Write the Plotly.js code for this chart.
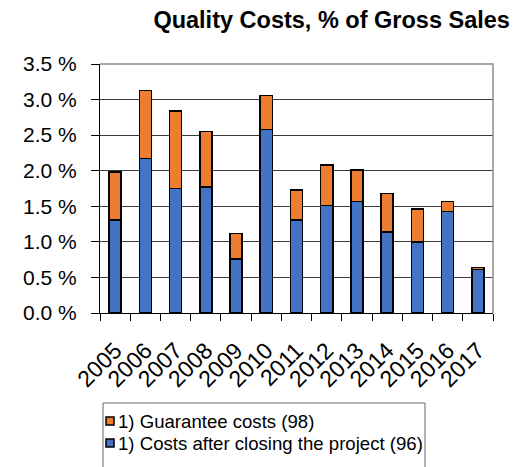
<!DOCTYPE html>
<html>
<head>
<meta charset="utf-8">
<script src="https://cdn.plot.ly/plotly-3.0.1.min.js"></script>
<style>html,body{margin:0;padding:0;background:#fff;}#chart{width:515px;height:467px;}</style>
</head>
<body>
<div id="chart"></div>
<script>
const years = ['2005','2006','2007','2008','2009','2010','2011','2012','2013','2014','2015','2016','2017'];
const costsAfterClosing = [1.31, 2.17, 1.75, 1.77, 0.76, 2.58, 1.31, 1.51, 1.57, 1.14, 1.00, 1.43, 0.61];
const guaranteeCosts = [0.67, 0.96, 1.09, 0.78, 0.36, 0.48, 0.42, 0.57, 0.44, 0.54, 0.46, 0.14, 0.03];
const seriesNames = ['1) Costs after closing the project (96)', '1) Guarantee costs (98)'];
const seriesColors = ['#4472C4', '#ED7D31'];
const titleText = 'Quality Costs, % of Gross Sales';

const font = 'Liberation Sans, Arial, sans-serif';

const traces = [
  {type:'bar', name: seriesNames[0], x: years, y: costsAfterClosing,
   marker:{color:seriesColors[0], line:{color:'#000', width:1.5}}},
  {type:'bar', name: seriesNames[1], x: years, y: guaranteeCosts,
   marker:{color:seriesColors[1], line:{color:'#000', width:1.5}}}
];

// plot area in pixels: x 100..493, y 64..313
const PX0 = 100, PW = 393, PY0 = 313, PH = 249;
const px = v => (v - PX0) / PW;
const py = v => (PY0 - v) / PH;

// custom legend (top item = guarantee costs, bottom = costs after closing)
const legendItems = [
  {name: seriesNames[1], color: seriesColors[1], cy: 421},
  {name: seriesNames[0], color: seriesColors[0], cy: 443}
];
const shapes = [
  {type:'path', xref:'paper', yref:'paper', path:'M0,1 L1,1 L1,0',
   line:{color:'#8c8c8c', width:1.5}, layer:'above'},
  {type:'rect', xref:'paper', yref:'paper', x0:px(103), x1:px(425), y0:py(472), y1:py(403),
   line:{color:'#666', width:1}, fillcolor:'rgba(0,0,0,0)'}
];
const annotations = [];
legendItems.forEach(it => {
  shapes.push({type:'rect', xref:'paper', yref:'paper', x0:px(106), x1:px(114),
    y0:py(it.cy + 4), y1:py(it.cy - 4), fillcolor:it.color, line:{color:'#000', width:1.5}});
  annotations.push({xref:'paper', yref:'paper', x:px(116), y:py(it.cy), xanchor:'left', yanchor:'middle',
    text:it.name, showarrow:false, font:{size:18.6, family:font, color:'#000'}});
});

const layout = {
  width:515, height:467,
  margin:{l:100, r:22, t:64, b:154, autoexpand:false},
  paper_bgcolor:'#fff', plot_bgcolor:'#fff',
  barmode:'stack', bargap:0.6,
  font:{family:font, color:'#000'},
  title:{text:titleText, font:{family:font, size:23.5, color:'#000', weight:'bold'},
         xref:'container', x:0.644, xanchor:'center', yref:'container', y:0.957, yanchor:'middle'},
  xaxis:{type:'category', tickangle:-45, tickfont:{size:23, family:font},
         showline:true, linecolor:'#000', linewidth:1, ticks:'outside', tickson:'boundaries',
         ticklen:7, tickcolor:'#000', showgrid:false, fixedrange:true, ticklabelstandoff:14},
  yaxis:{range:[0,3.5], dtick:0.5, tick0:0, tickformat:'.1f', ticksuffix:' %',
         tickfont:{size:21, family:font}, showline:true, linecolor:'#000', linewidth:1,
         ticks:'outside', ticklen:8, tickcolor:'#000', gridcolor:'#3a3a3a', gridwidth:1,
         zeroline:false, fixedrange:true, ticklabelstandoff:10},
  showlegend:false,
  shapes: shapes,
  annotations: annotations
};

Plotly.newPlot('chart', traces, layout, {displayModeBar:false, staticPlot:true});
</script>
</body>
</html>
